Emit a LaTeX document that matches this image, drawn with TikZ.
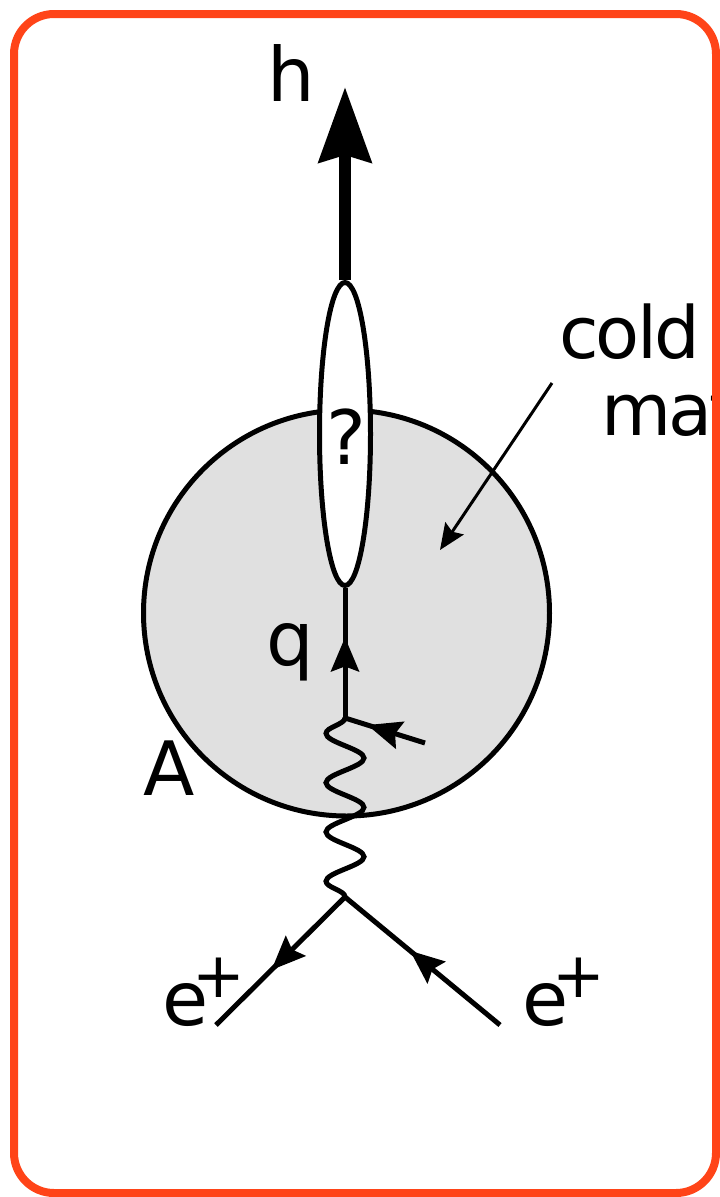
\documentclass[tikz,border=0pt]{standalone}
\usepackage{fontspec}
\setmainfont{DejaVu Sans}
\usetikzlibrary{arrows.meta,shapes.geometric,decorations.pathmorphing,decorations.markings}
\definecolor{FrameOrange}{HTML}{FF4418}
\definecolor{NucleusGray}{HTML}{E0E0E0}

\begin{document}
\begin{tikzpicture}[
  x=1pt, y=-1pt,
  font=\fontsize{75}{90}\selectfont,
  line/.style={line width=5pt, draw=black},
  midarrow/.style={postaction={decorate, decoration={markings,
    mark=at position #1 with {\arrow{Stealth[length=34pt, width=28pt, inset=5pt]}}}}},
  photon/.style={line width=5pt, decorate,
    decoration={snake, amplitude=19pt, segment length=49.3pt, mirror}},
  harrow/.style={-{Stealth[length=75pt, width=52pt, inset=7pt]}, line width=12pt},
  ptr/.style={-{Stealth[length=26pt, width=22pt, inset=4pt]}, line width=3pt},
  txt/.style={inner sep=0pt, anchor=base},
  tight/.style={font=\fontsize{72}{86}\selectfont\addfontfeatures{LetterSpace=-4}}
]
\useasboundingbox (0,0) rectangle (720,1197);

% nucleus and hadronisation blob
\node[circle, line, fill=NucleusGray, minimum size=406pt, inner sep=0pt] (nuc) at (346.5,613) {};
\node[ellipse, line, fill=white, minimum width=51pt, minimum height=303pt, inner sep=0pt] (blob) at (345,434) {};
\node[inner sep=0pt] (qmark) at (346,437) {?};

% vertices
\coordinate (vq) at (345,718);
\coordinate (ve) at (345,897);
\coordinate (eleft) at (216,1025);
\coordinate (eright) at (500,1025);
\coordinate (parton) at (425,743);
\coordinate (htip) at (345,87);

% lines
\draw[line, midarrow=0.62] (vq) -- (blob.south);
\draw[photon] (vq) -- (ve);
\draw[line, midarrow=0.72] (parton) -- (vq);
\draw[line, midarrow=0.57] (ve) -- (eleft);
\draw[line, midarrow=0.58] (eright) -- (ve);
\draw[harrow] (blob.north) -- (htip);

% labels
\node[txt] (hlab) at (291,101) {h};
\node[txt] (qlab) at (290,665) {q};
\node[txt] (alab) at (169,795) {A};
\node[txt, anchor=base west] (epleft) at (162.5,1025) {e\kern-16pt\raisebox{28pt}{\fontsize{63}{70}\selectfont+}};
\node[txt, anchor=base west] (epright) at (522.5,1025) {e\kern-16pt\raisebox{28pt}{\fontsize{63}{70}\selectfont+}};
\begin{scope}
  \clip (0,0) rectangle (716,1197);
  \node[txt, tight, anchor=base west] (cold) at (559,358) {cold};
  \node[txt, tight, anchor=base west] (matter) at (601,435) {matter};
\end{scope}
\coordinate (ptrstart) at (552,383);
\coordinate (ptrend) at (440,550);
\draw[ptr] (ptrstart) -- (ptrend);

% frame
\draw[FrameOrange, line width=8pt, rounded corners=40pt] (14,14) rectangle (716,1193);
\end{tikzpicture}
\end{document}
